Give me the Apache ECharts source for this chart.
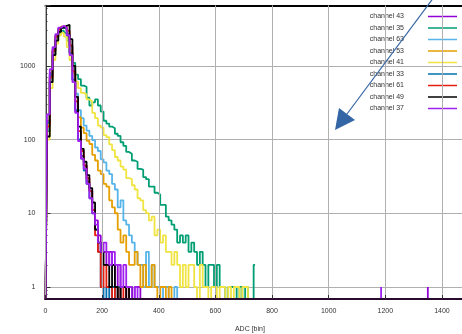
<!DOCTYPE html>
<html>
<head>
<meta charset="UTF-8">
<title>ADC spectra</title>
<script src="https://cdn.jsdelivr.net/npm/echarts@6/dist/echarts.min.js"></script>
<style>
html,body{margin:0;padding:0;background:#fff;}
#main{width:462px;height:334px;}
</style>
</head>
<body>
<div id="main"></div>
<script>
// bin positions (ADC) shared by all channels
var adc = [0,10,20,30,40,50,60,70,80,90,100,110,120,130,140,150,160,170,180,190,
    200,210,220,230,240,250,260,270,280,290,300,310,320,330,340,350,360,370,380,390,
    400,410,420,430,440,450,460,470,480,490,500,510,520,530,540,550,560,570,580,590,
    600,610,620,630,640,650,660,670,680,690,700,710,720,730,740];

// counts per bin (missing tail = 0)
var ch43 = [0,180,800,1700,2600,3200,3400,3300,2700,1500,650,240,100,60,44,27,20,11,8,5,3,3,2,3,2,1,2,1,1,0,1,0,1,1];
var ch35 = [0,130,600,1400,2200,2800,3000,2800,2200,1500,1100,760,660,540,520,370,290,320,350,290,
    240,180,165,150,142,120,112,92,82,68,64,52,50,40,39,31,29,23,23,19,18,13,13,9,8,7,6,4,5,4,
    5,3,4,3,2,3,2,1,2,2,1,2,1,1,0,1,1,1,0,1,0,1,0,0,2];
var ch63 = [0,140,650,1500,2400,3000,3300,3200,2700,1800,900,420,250,195,155,132,112,98,78,70,
    54,49,38,34,25,21,12,15,8,7,5,4,3,2,2,1,3,1,2,1,1,0,1,1,0,0,1];
var ch53 = [0,160,700,1600,2500,3100,3300,3200,2600,1600,800,380,200,145,122,96,87,62,52,38,
    34,25,23,15,12,10,6,4,5,3,2,2,3,2,1,2,1,1,2,1,0,1,1,0,1];
var ch41 = [0,100,500,1200,2000,2600,2800,2500,1800,1200,850,610,500,430,410,350,330,230,195,155,
    145,115,108,86,72,58,52,43,39,30,29,24,21,16,15,11,10,8,9,5,6,4,5,3,3,2,3,2,1,2,
    1,2,2,1,0,2,1,1,0,1,1,0,1,1,0,1,0,1,1,0,1,1];
var ch33 = [0,170,750,1600,2500,3100,3300,3200,2600,1500,650,250,100,55,38,25,16,10,6,3,1,0,1,0,1,0,1];
var ch61 = [0,150,700,1600,2500,3100,3400,3400,3000,1900,850,330,130,70,45,30,20,11,5,3,1,2,1,1,0,1,0,1,0,1];
var ch49 = [0,110,600,1400,2200,2900,3300,3500,3600,2300,1000,380,150,75,50,33,22,14,6,4,3,2,2,1,2,1,0,1,1,0,1];
var ch37 = [0,220,900,1800,2700,3300,3500,3300,2600,1400,600,230,95,55,40,25,16,10,7,4,3,4,3,2,3,2,2,1,2,1,1,0,1];

// lone far-out hits [adc, count]
var ch43Far = [[1350, 1]];
var ch37Far = [[1185, 1]];

var names = ['channel 43','channel 35','channel 63','channel 53','channel 41','channel 33','channel 61','channel 49','channel 37'];
var counts = [ch43, ch35, ch63, ch53, ch41, ch33, ch61, ch49, ch37];
var farHits = [ch43Far, [], [], [], [], [], [], [], ch37Far];
var colors = ['#9400d3','#009e73','#56b4e9','#e69f00','#f0e442','#0072b2','#e51e10','#000000','#a020f0'];

var FLOOR = 0.5; // zero counts fall below the log axis and get clipped
function buildData(vals, far) {
    var out = [];
    for (var i = 0; i < adc.length; i++) {
        var v = i < vals.length ? vals[i] : 0;
        out.push([adc[i], v > 0 ? v : FLOOR]);
    }
    for (var j = 0; j < far.length; j++) {
        out.push([far[j][0], FLOOR]);
        out.push([far[j][0], far[j][1]]);
        out.push([far[j][0], FLOOR]);
    }
    return out;
}

var font = 'Liberation Sans, Arial, sans-serif';
var series = [];
for (var k = 0; k < names.length; k++) {
    series.push({
        name: names[k],
        type: 'line',
        step: 'middle',
        symbol: 'none',
        clip: true,
        color: colors[k],
        lineStyle: {width: 1.8, color: colors[k]},
        data: buildData(counts[k], farHits[k])
    });
}

var myChart = echarts.init(document.getElementById('main'));
var option = {
    animation: false,
    backgroundColor: '#fff',
    grid: {left: 45.5, top: 5.5, right: -8.3, bottom: 35, containLabel: false, outerBoundsMode: 'none'},
    legend: {
        orient: 'vertical',
        right: 0,
        top: 8,
        align: 'right',
        icon: 'rect',
        itemWidth: 29,
        itemHeight: 1.5,
        itemGap: 4.5,
        textStyle: {fontSize: 7, color: '#333', fontFamily: font, padding: [0, 19, 0, 0]},
        data: names
    },
    xAxis: [{
        type: 'value',
        min: 0, max: 1500, interval: 200,
        position: 'bottom',
        name: 'ADC [bin]',
        nameLocation: 'middle',
        nameGap: 27,
        nameTextStyle: {fontSize: 7, color: '#333', fontFamily: font, padding: [0, 16, 0, 0]},
        axisLine: {lineStyle: {color: '#2a0b30', width: 2}},
        axisTick: {inside: true, length: 4, lineStyle: {color: '#333'}},
        axisLabel: {fontSize: 7, color: '#333', fontFamily: font, margin: 9, showMaxLabel: false,
            formatter: function (v) { return String(v); }},
        splitLine: {show: true, lineStyle: {color: '#b0b0b0', width: 1}},
        z: 5
    }, {
        type: 'value',
        min: 0, max: 1500, interval: 200,
        position: 'top',
        axisLine: {lineStyle: {color: '#000', width: 2}},
        axisTick: {inside: true, length: 4, lineStyle: {color: '#333'}},
        axisLabel: {show: false},
        splitLine: {show: false}
    }],
    yAxis: {
        type: 'log',
        logBase: 10,
        min: 0.687, max: 6590,
        axisLine: {show: true, lineStyle: {color: '#000', width: 1.5}},
        axisTick: {inside: true, length: 5, lineStyle: {color: '#333'}},
        minorTick: {show: true, splitNumber: 9, length: 2, lineStyle: {color: '#333'}},
        axisLabel: {
            fontSize: 7, color: '#333', fontFamily: font, margin: 10,
            formatter: function (v) {
                var e = Math.log(v) / Math.LN10;
                return Math.abs(e - Math.round(e)) < 1e-6 ? String(Math.round(Math.pow(10, Math.round(e)))) : '';
            }
        },
        splitLine: {show: true, lineStyle: {color: '#b0b0b0', width: 1}}
    },
    graphic: [
        {type: 'line', z: 100, shape: {x1: 440, y1: -11, x2: 347, y2: 114}, style: {stroke: '#3465a4', lineWidth: 1.2}},
        {type: 'polygon', z: 100, shape: {points: [[335, 130], [339, 108], [355, 120]]}, style: {fill: '#3465a4'}}
    ],
    series: series
};
myChart.setOption(option);
</script>
</body>
</html>
